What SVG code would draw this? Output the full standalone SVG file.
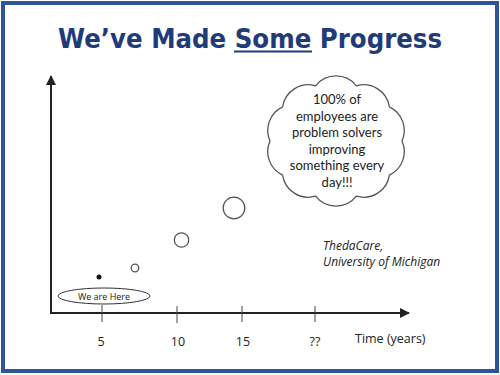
<svg xmlns="http://www.w3.org/2000/svg" width="500" height="375" viewBox="0 0 500 375">
<style>
.ax{stroke:#222;stroke-width:2;fill:none}
.tk{stroke:#444;stroke-width:1}
.c{fill:none;stroke:#555;stroke-width:1.3}
.lbl{font-family:"Open Sans","Liberation Sans",sans-serif;font-size:12.5px;fill:#222}
.cl{font-family:Lato,"Liberation Sans",sans-serif;font-size:13px;fill:#222;text-anchor:middle}
.src{font-family:"Open Sans","Liberation Sans",sans-serif;font-style:italic;font-size:12px;fill:#222}
</style>
<defs>
<marker id="ah" viewBox="0 0 10 10" refX="9" refY="5" markerWidth="5" markerHeight="5" orient="auto-start-reverse">
<path d="M0,0 L10,5 L0,10 z" fill="#222"/>
</marker>
</defs>
<rect x="0" y="0" width="500" height="375" fill="#fff"/>
<rect x="3" y="3" width="494" height="368" fill="none" stroke="#2f5597" stroke-width="4"/>
<g id="title">
<text x="250" y="48" text-anchor="middle" font-family="DejaVu Sans, Verdana, sans-serif" font-weight="bold" font-size="27" fill="#1f3b7a" textLength="384" lengthAdjust="spacingAndGlyphs">We’ve Made Some Progress</text>
<line x1="234" y1="51.5" x2="312" y2="51.5" stroke="#1f3b7a" stroke-width="2"/>
</g>
<g id="connectors">
<line class="ax" x1="51" y1="314" x2="51" y2="76" marker-end="url(#ah)"/>
<line class="ax" x1="50" y1="313" x2="409" y2="313" marker-end="url(#ah)"/>
<line class="tk" x1="102" y1="305" x2="102" y2="322"/>
<line class="tk" x1="177" y1="306" x2="177" y2="323"/>
<line class="tk" x1="242" y1="306" x2="242" y2="322"/>
<line class="tk" x1="315" y1="306" x2="315" y2="322"/>
</g>
<g id="axis-labels">
<text class="lbl" x="101" y="346" text-anchor="middle">5</text>
<text class="lbl" x="178" y="346" text-anchor="middle">10</text>
<text class="lbl" x="243" y="346" text-anchor="middle">15</text>
<text class="lbl" x="315" y="346" text-anchor="middle">??</text>
<text class="lbl" x="355" y="343">Time (years)</text>
</g>
<g id="points">
<circle cx="99" cy="277" r="2.5" fill="#111"/>
<circle class="c" cx="135" cy="268" r="3.8"/>
<circle class="c" cx="181.5" cy="240" r="7.2"/>
<circle class="c" cx="234" cy="208" r="10.8"/>
</g>
<g id="here">
<ellipse cx="104" cy="296" rx="46" ry="8" fill="#fff" stroke="#333" stroke-width="1"/>
<text x="104" y="299.5" text-anchor="middle" font-family="Open Sans, Liberation Sans, sans-serif" font-size="9" fill="#222">We are Here</text>
</g>
<g id="cloud">
<path class="c" fill="#fff" d="M315.6,85.8 A26,26 0 0 1 356.4,85.8 A26,26 0 0 1 389.4,106.9 A26,26 0 0 1 402,141 A26,26 0 0 1 389.4,175.1 A26,26 0 0 1 356.4,196.2 A26,26 0 0 1 315.6,196.2 A26,26 0 0 1 282.6,175.1 A26,26 0 0 1 270,141 A26,26 0 0 1 282.6,106.9 A26,26 0 0 1 315.6,85.8 Z"/>
<text class="cl" x="337" y="104">100% of</text>
<text class="cl" x="337" y="120.5">employees are</text>
<text class="cl" x="337" y="137">problem solvers</text>
<text class="cl" x="337" y="153.5">improving</text>
<text class="cl" x="337" y="170">something every</text>
<text class="cl" x="337" y="186.5">day!!!</text>
</g>
<g id="source">
<text class="src" x="323" y="250">ThedaCare,</text>
<text class="src" x="323" y="266">University of Michigan</text>
</g>
</svg>
